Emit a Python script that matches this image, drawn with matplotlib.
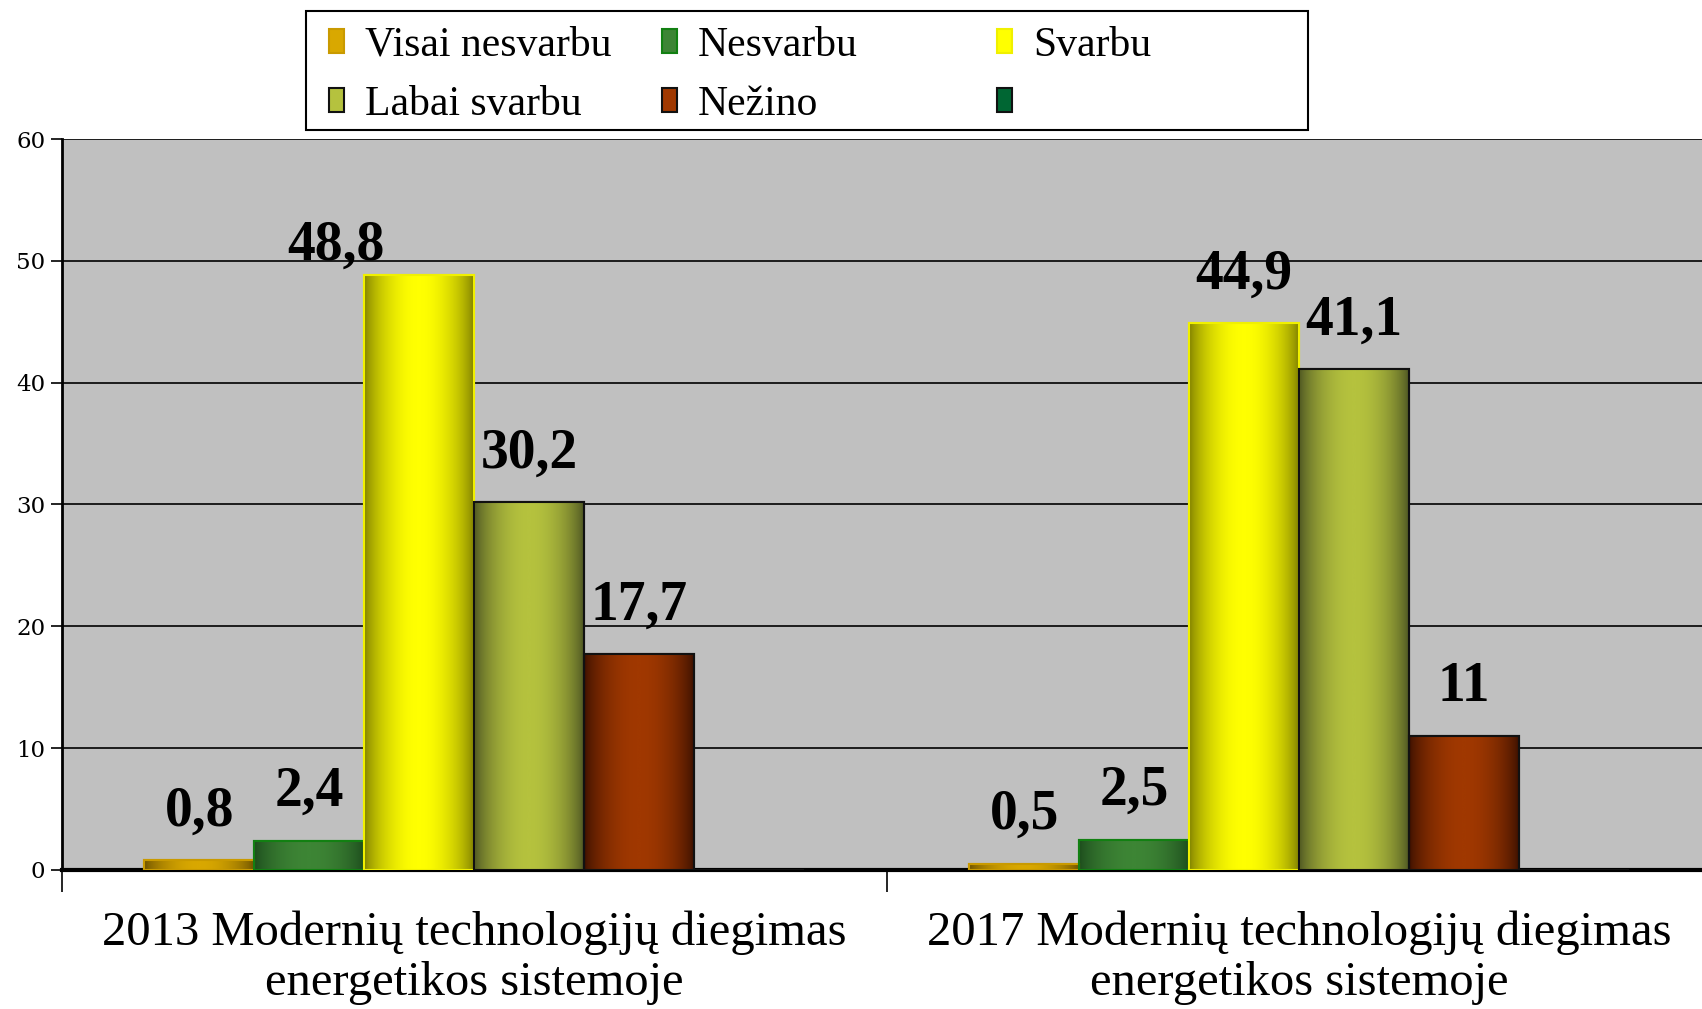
import numpy as np
import matplotlib.pyplot as plt
from matplotlib.colors import LinearSegmentedColormap
from matplotlib.patches import Rectangle

categories = ["2013 Modernių technologijų diegimas\nenergetikos sistemoje",
              "2017 Modernių technologijų diegimas\nenergetikos sistemoje"]
series = ["Visai nesvarbu", "Nesvarbu", "Svarbu", "Labai svarbu", "Nežino", ""]
values_2013 = [0.8, 2.4, 48.8, 30.2, 17.7, np.nan]
values_2017 = [0.5, 2.5, 44.9, 41.1, 11.0, np.nan]

# (edge dark, centre bright, outline)
styles = [("#6b5000", "#d9a800", "#c99a00"),
          ("#1c4a1c", "#3d8535", "#128012"),
          ("#7d7d00", "#ffff00", "#f0f000"),
          ("#4a5222", "#b5c23e", "#111111"),
          ("#3a1000", "#a03800", "#111111"),
          ("#006633", "#006633", "#111111")]

plt.rcParams['font.family'] = ['Liberation Serif', 'DejaVu Serif']

W, H = 1702, 1009
fig = plt.figure(figsize=(W / 100, H / 100), dpi=100)
ax = fig.add_axes([0.0364, 0.1378, 0.9693, 0.7244])
ax.set_facecolor("#c0c0c0")

data = np.array([values_2013, values_2017])
n = len(series)
width = 1 / (n + 1.5)
x = np.arange(len(categories))

grad = np.sin(np.linspace(0, np.pi, 200)) ** 0.7
grad = grad.reshape(1, -1)

# the 48,8 label sits left of its bar in the original
label_offsets = {(0, 2): (-60, -14)}

for i, name in enumerate(series):
    dark, bright, edge = styles[i]
    xs = x - (n - 1) / 2 * width + i * width
    vals = data[:, i]
    bars = ax.bar(xs, np.nan_to_num(vals), width, color=bright, edgecolor=edge,
                  linewidth=1.5, zorder=3)
    cmap = LinearSegmentedColormap.from_list(f"g{i}", [dark, bright])
    for j, b in enumerate(bars):
        if np.isnan(vals[j]):
            continue
        bx, by = b.get_x(), b.get_y()
        im = ax.imshow(grad, cmap=cmap, aspect="auto", zorder=3.5,
                       extent=[bx, bx + b.get_width(), by, by + b.get_height()],
                       interpolation="bicubic")
        im.set_clip_path(b)
        ax.bar(xs[j], vals[j], width, fill=False, edgecolor=edge,
               linewidth=1.5, zorder=4)
        txt = f"{vals[j]:g}".replace(".", ",")
        dx, dy = label_offsets.get((j, i), (0, 0))
        ax.annotate(txt, (xs[j], vals[j]), xytext=(dx, 25 + dy),
                    textcoords="offset points", ha="center", va="baseline",
                    fontsize=40, fontweight="bold", zorder=5)

ax.set_xlim(-0.5, 1.5)
ax.set_ylim(0, 60)
ax.set_yticks(np.arange(0, 61, 10))
ax.yaxis.grid(True, color="black", linewidth=1.2, zorder=1)
ax.set_axisbelow(True)
ax.tick_params(axis="y", labelsize=16.5, length=8, width=1.2, pad=4)
for t in ax.get_yticklabels():
    t.set_fontfamily("DejaVu Serif")

ax.set_xticks([-0.5, 0.5, 1.5])
ax.set_xticklabels([])
ax.tick_params(axis="x", which="major", length=16, width=1.2, direction="out")
ax.set_xticks(x, minor=True)
ax.set_xticklabels(categories, minor=True, fontsize=35, linespacing=1.17)
ax.tick_params(axis="x", which="minor", length=0, pad=29)

for s in ["top", "right"]:
    ax.spines[s].set_visible(False)
ax.spines["left"].set_linewidth(2)
ax.spines["bottom"].set_linewidth(3)

# legend: 3 equal columns, 2 rows, in a framed box
fig.patches.append(Rectangle((306 / W, 1 - 130 / H), 1002 / W, 119 / H,
                             transform=fig.transFigure, facecolor="white",
                             edgecolor="black", linewidth=1.5))
col_x = [329, 662, 997]
row_y = [41, 100]
for i, name in enumerate(series):
    r, c = divmod(i, 3)
    cx, cy = col_x[c], row_y[r]
    fig.patches.append(Rectangle((cx / W, 1 - (cy + 12) / H), 15 / W, 24 / H,
                                 transform=fig.transFigure,
                                 facecolor=styles[i][1], edgecolor=styles[i][2],
                                 linewidth=1.5))
    fig.text((cx + 36) / W, 1 - cy / H, name, fontsize=30, ha="left",
             va="center_baseline")

fig.savefig("out.png", dpi=100)
